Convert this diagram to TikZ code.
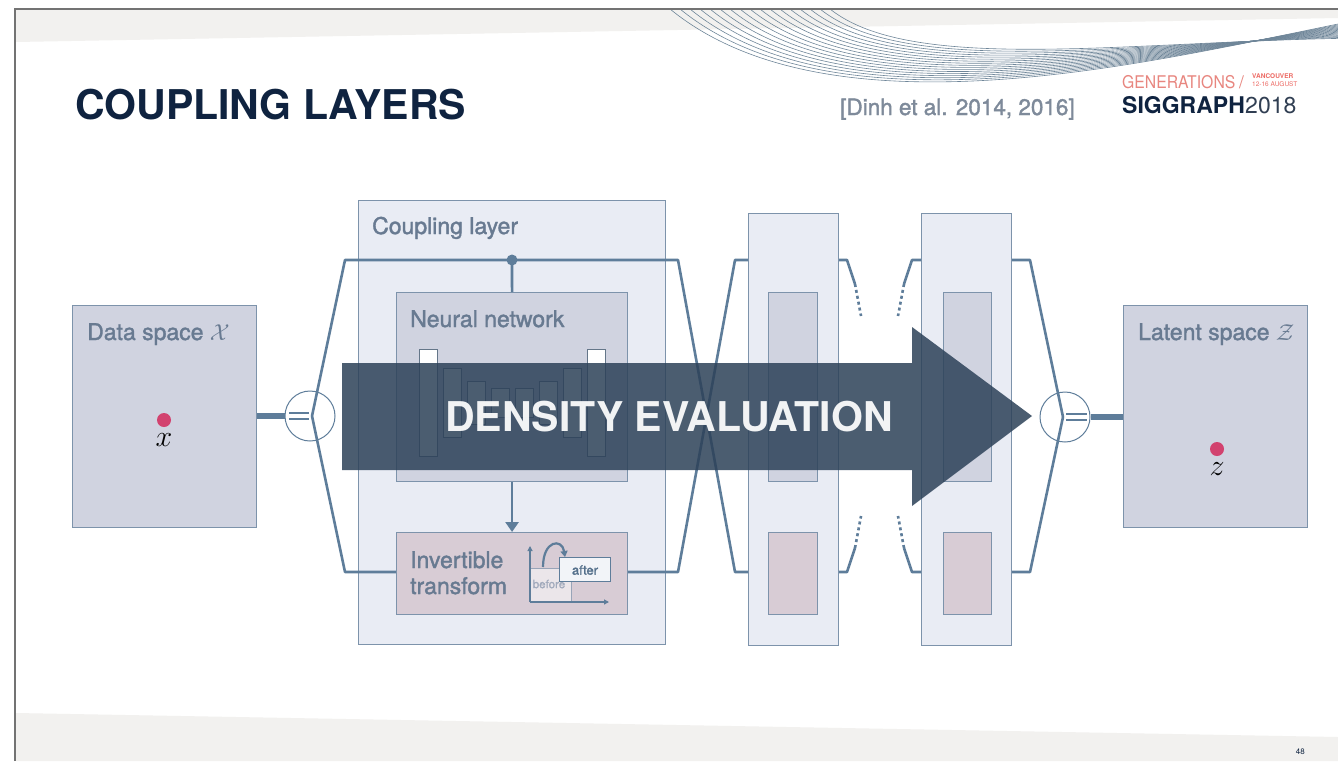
\documentclass[tikz,border=0pt]{standalone}
\usepackage{fix-cm}
\usepackage{fontspec}
\setmainfont{TeX Gyre Heros}
\newfontfamily\medfont[FakeBold=1.6]{TeX Gyre Heros}
\usetikzlibrary{arrows.meta}

\definecolor{navy}{HTML}{0F2340}
\definecolor{lbl}{HTML}{687A91}
\definecolor{edge}{HTML}{7D93AB}
\definecolor{wire}{HTML}{5E7D9A}
\definecolor{boxfill}{HTML}{D0D3E0}
\definecolor{layerfill}{HTML}{E9ECF4}
\definecolor{pinkfill}{HTML}{D8CCD5}
\definecolor{dotred}{HTML}{D2426F}
\definecolor{band}{HTML}{F2F1EF}
\definecolor{arrowc}{HTML}{2C4158}
\definecolor{cite}{HTML}{7E8A9A}
\definecolor{salmon}{HTML}{E8867F}
\definecolor{wave}{HTML}{6F8699}

\tikzset{
  outerbox/.style={draw=edge, fill=layerfill, line width=1.1pt, anchor=north west, inner sep=0pt},
  spacebox/.style={draw=edge, fill=boxfill, line width=1.1pt, anchor=north west, inner sep=0pt},
  pinkbox/.style={draw=edge, fill=pinkfill, line width=1.1pt, anchor=north west, inner sep=0pt},
  barbox/.style={draw=edge!80!black, fill=white, line width=0.9pt, anchor=north west, inner sep=0pt, minimum width=18pt},
  lbl/.style={text=lbl, anchor=base west, inner sep=0pt, font=\medfont\fontsize{23}{26}\selectfont},
  wireline/.style={draw=wire, line width=2.6pt, line join=round},
  dotwire/.style={draw=wire, line width=2.6pt, dash pattern=on 3pt off 3pt},
  splitter/.style={circle, draw=wire, fill=white, line width=1pt, minimum size=50pt, inner sep=0pt},
  reddot/.style={circle, fill=dotred, minimum size=14pt, inner sep=0pt},
  mathlbl/.style={font=\fontsize{30}{32}\selectfont, inner sep=0pt},
}

\begin{document}
\begin{tikzpicture}[x=1pt, y=-1pt]
\useasboundingbox (0,0) rectangle (1338,761);
\fill[white] (0,0) rectangle (1338,761);

% slide background bands
\fill[band] (16,10) -- (1338,10) -- (1338,18) -- (16,42) -- cycle;
\fill[band] (16,713) -- (1338,737) -- (1338,761) -- (16,761) -- cycle;

% decorative wave lines in the header
\begin{scope}
  \clip (16,10) rectangle (1338,130);
  \foreach \i in {0,...,16} {
    \pgfmathsetmacro{\sx}{670+10*\i}
    \pgfmathsetmacro{\ax}{830+5*\i}
    \pgfmathsetmacro{\ay}{140-4.2*\i}
    \pgfmathsetmacro{\bx}{1150-2*\i}
    \pgfmathsetmacro{\by}{62-1.2*\i}
    \pgfmathsetmacro{\ey}{24+0.9*\i}
    \draw[wave, line width=0.6pt] (\sx,9) .. controls (\ax,\ay) and (\bx,\by) .. (1338,\ey);
  }
\end{scope}

% slide frame
\draw[gray!110, line width=1.6pt] (15,761) -- (15,9) -- (1338,9);

% header texts
\node[anchor=base west, inner sep=0pt, text=navy, font=\bfseries\fontsize{41}{45}\selectfont] (title) at (75,119) {COUPLING LAYERS};
\node[anchor=base west, inner sep=0pt, text=cite, font=\medfont\fontsize{22.5}{26}\selectfont] (ref) at (840,115) {[Dinh et al. 2014, 2016]};
\node[anchor=base west, inner sep=0pt, text=salmon, font=\fontsize{17.5}{20}\selectfont] (gen) at (1122,88) {\scalebox{0.9}[1]{GENERATIONS}};
\node[anchor=base west, inner sep=0pt, text=salmon, font=\fontsize{17.5}{20}\selectfont] (slash) at (1239,88) {/};
\node[anchor=north west, inner sep=0pt, align=left, text=salmon!80!red, font=\fontsize{6.5}{8}\selectfont] (city) at (1252,73.5) {{\bfseries VANCOUVER}\\12-16 AUGUST};
\node[anchor=base west, inner sep=0pt, text=navy, font=\bfseries\fontsize{23}{26}\selectfont] (sig) at (1122,113) {SIGGRAPH};
\node[anchor=base west, inner sep=0pt, text=navy!70!gray, font=\fontsize{23}{26}\selectfont] (year) at (1245,113) {2018};
\node[anchor=base east, inner sep=0pt, text=navy, font=\fontsize{8}{9}\selectfont] (page) at (1305,754) {48};

% outer layer boxes
\node[outerbox, minimum width=307pt, minimum height=444pt] (coupling) at (358,200) {};
\node[outerbox, minimum width=90pt, minimum height=432pt] (layerB) at (748,213) {};
\node[outerbox, minimum width=90pt, minimum height=432pt] (layerC) at (921,213) {};
\node[lbl] (couplbl) at (372,234) {Coupling layer};

% data and latent spaces
\node[spacebox, minimum width=184pt, minimum height=222pt] (data) at (72,305) {};
\node[spacebox, minimum width=184pt, minimum height=222pt] (latent) at (1123,305) {};
\node[lbl] (datalbl) at (87,340) {Data space $\mathcal{X}$};
\node[lbl] (latlbl) at (1138,340) {Latent space $\mathcal{Z}$};
\node[reddot] (xdot) at (164,420) {};
\node[mathlbl] (xlbl) at (164,440) {$x$};
\node[reddot] (zdot) at (1217,449) {};
\node[mathlbl] (zlbl) at (1217,469) {$z$};

% splitters
\node[splitter] (splitL) at (310,416) {};
\node[splitter] (splitR) at (1065,417) {};
\coordinate (jL) at (312,416);
\coordinate (jR) at (1063,417);

% wiring corners
\coordinate (lt) at (345,260);
\coordinate (lb) at (345,572);
\coordinate (ct) at (678,260);
\coordinate (cb) at (678,572);
\coordinate (bt) at (735,260);
\coordinate (bb) at (735,572);
\coordinate (fork) at (512,260);

% thick bars into/out of the splitters
\draw[draw=wire, line width=6pt] (data.east |- jL) -- (splitL.west);
\draw[draw=wire, line width=6pt] (splitR.east) -- (latent.west |- jR);
\draw[draw=wire, line width=2.3pt] (289,413) -- (309,413);
\draw[draw=wire, line width=2.3pt] (289,419) -- (309,419);
\draw[draw=wire, line width=2.3pt] (1066,414) -- (1087,414);
\draw[draw=wire, line width=2.3pt] (1066,420) -- (1087,420);

% coupling layer wires, with the crossing between layers
\draw[wireline] (jL) -- (lt) -- (ct) -- (bb) -- (layerB.west |- bb);
\draw[wireline] (jL) -- (lb) -- (397,572);
\draw[wireline] (627,572) -- (cb) -- (bt) -- (layerB.west |- bt);

% wires out of the second layer
\draw[wireline] (layerB.east |- bt) -- (847,260) -- (855,284);
\draw[dotwire] (855,284) -- (861,316);
\draw[wireline] (layerB.east |- bb) -- (847,572) -- (855,548);
\draw[dotwire] (855,548) -- (861,516);

% wires into the third layer
\draw[wireline] (layerC.west |- bt) -- (912,260) -- (904,284);
\draw[dotwire] (904,284) -- (898,316);
\draw[wireline] (layerC.west |- bb) -- (912,572) -- (904,548);
\draw[dotwire] (904,548) -- (898,516);

% wires into the output splitter
\draw[wireline] (layerC.east |- bt) -- (1030,260) -- (jR);
\draw[wireline] (layerC.east |- bb) -- (1030,572) -- (jR);

% neural network box
\node[spacebox, minimum width=231pt, minimum height=189pt] (nn) at (396,292) {};
\node[lbl] (nnlbl) at (410,327) {Neural network};
\node[barbox, minimum height=107pt] (b1) at (419,349) {};
\node[barbox, minimum height=69pt] (b2) at (443,368) {};
\node[barbox, minimum height=43pt] (b3) at (467,381) {};
\node[barbox, minimum height=29pt] (b4) at (491,388) {};
\node[barbox, minimum height=29pt] (b5) at (515,388) {};
\node[barbox, minimum height=43pt] (b6) at (539,381) {};
\node[barbox, minimum height=69pt] (b7) at (563,368) {};
\node[barbox, minimum height=107pt] (b8) at (587,349) {};

% invertible transform box
\node[pinkbox, minimum width=231pt, minimum height=82pt] (inv) at (396,532) {};
\node[lbl] (invlbl1) at (410,568) {Invertible};
\node[lbl] (invlbl2) at (410,594) {transform};

% branch from the top wire into the network, and network into transform
\fill[wire] (fork) circle (5.5pt);
\draw[wireline] (fork) -- (nn.north);
\draw[wireline, -{Triangle[length=10pt,width=13pt]}] (nn.south) -- (inv.north);

% small before/after chart
\node[draw=edge!70!pinkfill, fill=pinkfill!50!white, line width=0.8pt, anchor=north west, inner sep=0pt,
      minimum width=41pt, minimum height=34pt] (before) at (530,568) {};
\node[text=edge!60!pinkfill, font=\medfont\fontsize{11.5}{12}\selectfont, inner sep=0pt] (beforelbl) at (549,584) {before};
\node[draw=wire, fill=layerfill!60!white, line width=1pt, anchor=north west, inner sep=0pt,
      minimum width=51pt, minimum height=24pt] (after) at (559,557) {};
\node[text=wire!90!black, font=\medfont\fontsize{13}{14}\selectfont, inner sep=0pt] (afterlbl) at (585,570) {after};
\coordinate (origin) at (530,602);
\draw[draw=wire, line width=1.1pt, -{Triangle[length=5pt,width=5pt]}] (origin) -- (530,546);
\draw[draw=wire, line width=1.1pt, -{Triangle[length=5pt,width=5pt]}] (origin) -- (609,602);
\draw[draw=wire, line width=2.2pt, -{Triangle[length=6pt,width=7pt]}] (543,567) .. controls (543,540) and (562,538) .. (565,557);

% inner boxes of the second and third layers
\node[spacebox, minimum width=49pt, minimum height=189pt] (b2nn) at (768,292) {};
\node[pinkbox, minimum width=49pt, minimum height=82pt] (b2inv) at (768,532) {};
\node[spacebox, minimum width=48pt, minimum height=189pt] (c2nn) at (943,292) {};
\node[pinkbox, minimum width=48pt, minimum height=82pt] (c2inv) at (943,532) {};

% direction arrow across the flow
\fill[arrowc, fill opacity=0.85] (342,363) -- (912,363) -- (912,327) -- (1032,416) -- (912,506) -- (912,470) -- (342,470) -- cycle;
\node[text=white, text opacity=0.93, font=\bfseries\fontsize{41}{45}\selectfont, inner sep=0pt, anchor=base] (dens) at (669,431) {DENSITY EVALUATION};
\end{tikzpicture}
\end{document}
